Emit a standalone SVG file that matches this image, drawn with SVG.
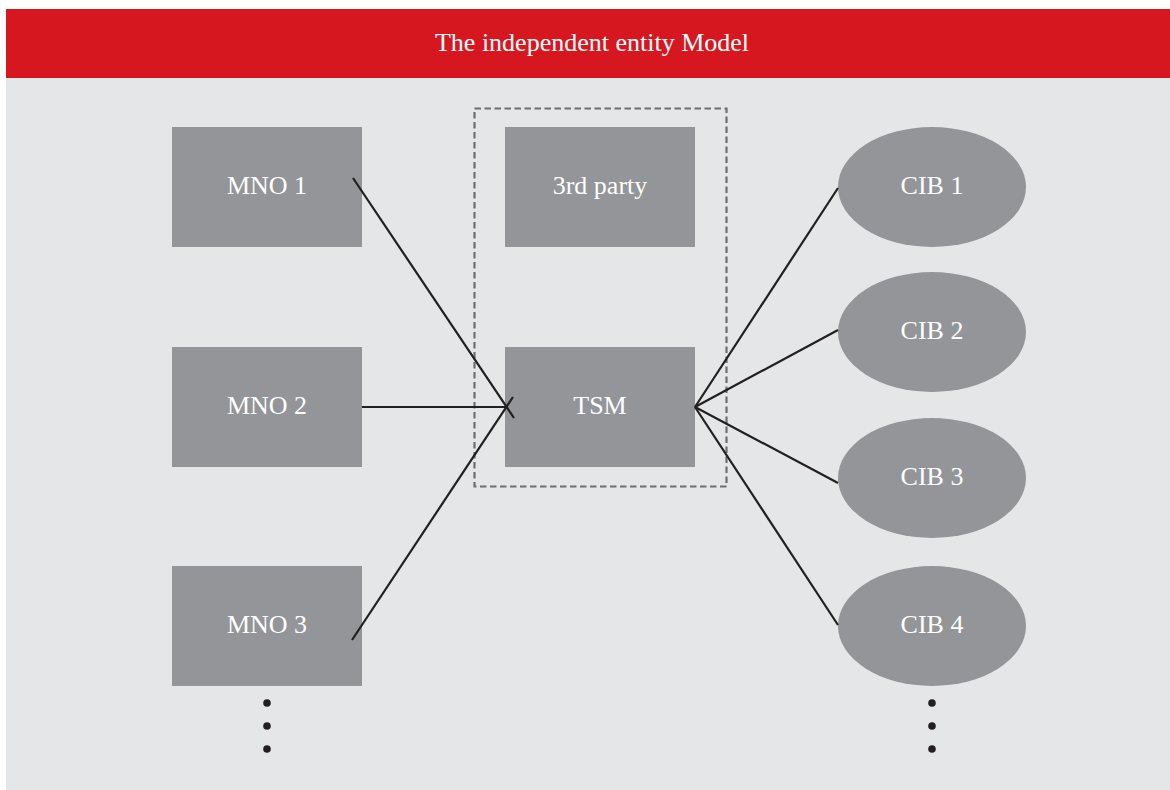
<svg xmlns="http://www.w3.org/2000/svg" width="1170" height="790" viewBox="0 0 1170 790">
<style>
.node{fill:#939598}
.lbl{font-family:"Liberation Serif","DejaVu Serif",serif;font-size:26px;fill:#ffffff;text-anchor:middle}
.conn line{stroke:#231f20;stroke-width:2.2}
.dot{fill:#231f20}
</style>
<rect x="0" y="0" width="1170" height="790" fill="#ffffff"/>
<rect x="6" y="78" width="1164" height="712" fill="#e5e6e8"/>
<g id="header">
<rect x="6" y="9" width="1164" height="69" fill="#d7171f"/>
<text x="592" y="51" style="font-family:'Liberation Serif','DejaVu Serif',serif;font-size:26px;fill:#ffffff;text-anchor:middle">The independent entity Model</text>
</g>
<g id="group-box">
<rect x="474.5" y="108.5" width="252" height="378" fill="none" stroke="#6d6e71" stroke-width="2.2" stroke-dasharray="6.5,3.5"/>
</g>
<g id="mno1"><rect class="node" x="172" y="127" width="190" height="120"/><text class="lbl" x="267" y="194">MNO 1</text></g>
<g id="mno2"><rect class="node" x="172" y="347" width="190" height="120"/><text class="lbl" x="267" y="414">MNO 2</text></g>
<g id="mno3"><rect class="node" x="172" y="566" width="190" height="120"/><text class="lbl" x="267" y="633">MNO 3</text></g>
<g id="third-party"><rect class="node" x="505" y="127" width="190" height="120"/><text class="lbl" x="600" y="194">3rd party</text></g>
<g id="tsm"><rect class="node" x="505" y="347" width="190" height="120"/><text class="lbl" x="600" y="414">TSM</text></g>
<g id="cib1"><ellipse class="node" cx="932" cy="187" rx="94" ry="60"/><text class="lbl" x="932" y="194">CIB 1</text></g>
<g id="cib2"><ellipse class="node" cx="932" cy="332" rx="94" ry="60"/><text class="lbl" x="932" y="339">CIB 2</text></g>
<g id="cib3"><ellipse class="node" cx="932" cy="478" rx="94" ry="60"/><text class="lbl" x="932" y="485">CIB 3</text></g>
<g id="cib4"><ellipse class="node" cx="932" cy="626" rx="94" ry="60"/><text class="lbl" x="932" y="633">CIB 4</text></g>
<g id="connectors" class="conn">
<line x1="353" y1="178" x2="514" y2="418"/>
<line x1="362" y1="407" x2="506" y2="407"/>
<line x1="352" y1="640" x2="513" y2="397"/>
<line x1="695" y1="407" x2="838" y2="188"/>
<line x1="695" y1="407" x2="838" y2="330"/>
<line x1="695" y1="407" x2="838" y2="483"/>
<line x1="695" y1="407" x2="838" y2="625"/>
</g>
<g id="more-mno">
<circle class="dot" cx="267" cy="703" r="3.8"/>
<circle class="dot" cx="267" cy="726" r="3.8"/>
<circle class="dot" cx="267" cy="749" r="3.8"/>
</g>
<g id="more-cib">
<circle class="dot" cx="932" cy="703" r="3.8"/>
<circle class="dot" cx="932" cy="726" r="3.8"/>
<circle class="dot" cx="932" cy="749" r="3.8"/>
</g>
</svg>
